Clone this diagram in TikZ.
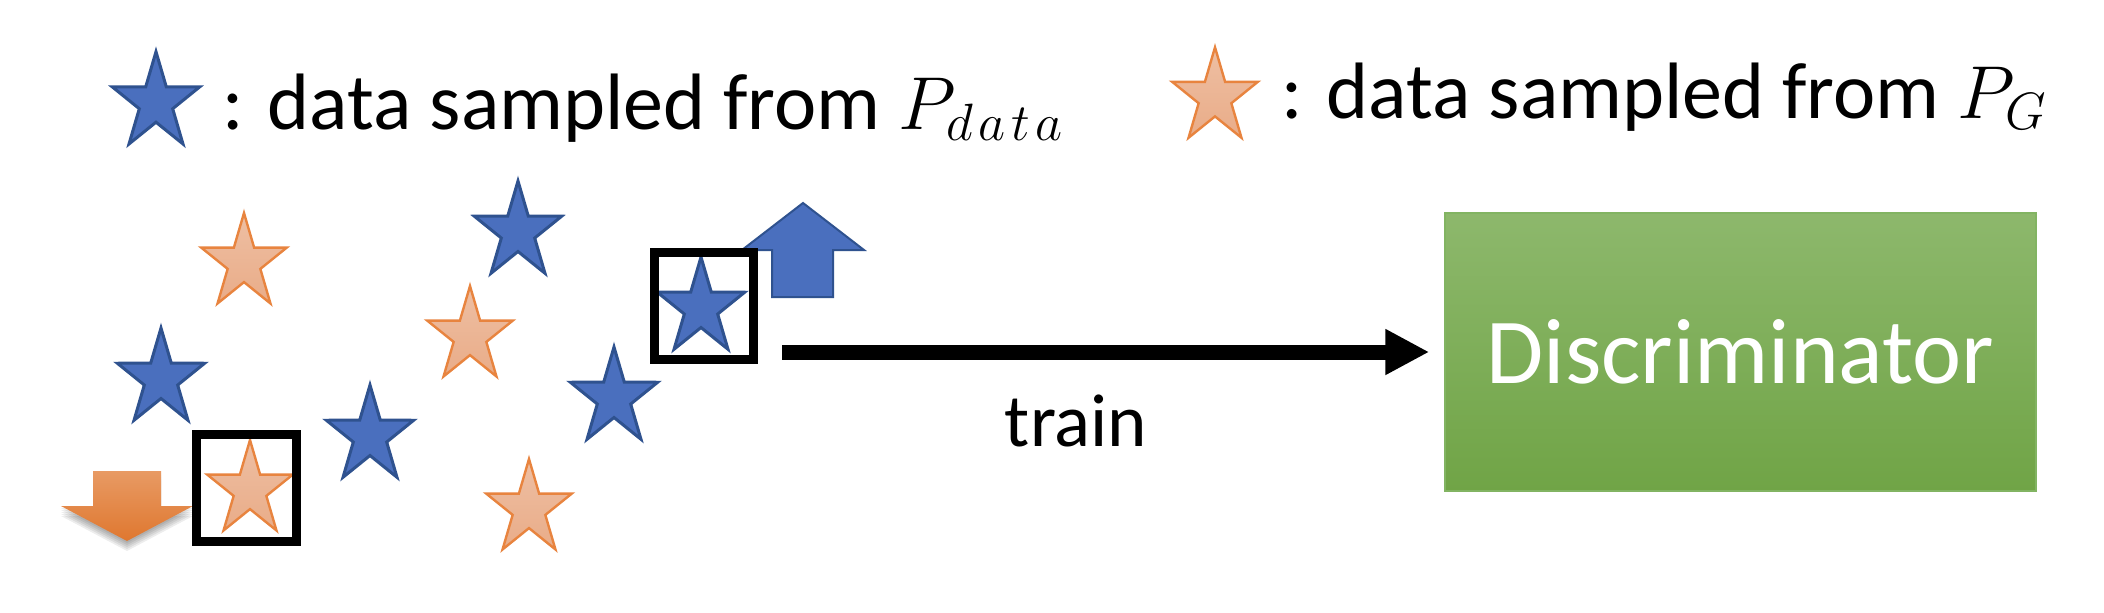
\RequirePackage{fix-cm}
\documentclass[tikz,border=0pt]{standalone}
\usepackage{fontspec}
\setmainfont{Carlito}
\usetikzlibrary{arrows.meta,calc}
\definecolor{bfill}{HTML}{4A6FBE}
\definecolor{bline}{HTML}{2F528F}
\definecolor{oline}{HTML}{E8843F}
\definecolor{otop}{HTML}{EEBFA3}
\definecolor{obot}{HTML}{E9AC88}
\definecolor{gtop}{HTML}{8DB86C}
\definecolor{gbot}{HTML}{70A446}
\definecolor{gline}{HTML}{82B462}
\definecolor{atop}{HTML}{E89A64}
\definecolor{abot}{HTML}{DF772F}
\newcommand{\mymath}[1]{{\fontsize{37.5pt}{44pt}\selectfont$#1$}}
\tikzset{
  bluestarstyle/.style={fill=bfill, draw=bline, line width=1.5pt},
  orangestarstyle/.style={top color=otop, bottom color=obot, draw=oline, line width=1.2pt},
  pics/bstar/.style={code={\path[bluestarstyle,xscale=0.9] (-90:51) -- (-54:19.5) -- (-18:51) -- (18:19.5) -- (54:51) -- (90:19.5) -- (126:51) -- (162:19.5) -- (198:51) -- (234:19.5) -- cycle;}},
  pics/ostar/.style={code={\path[orangestarstyle,xscale=0.9] (-90:50) -- (-54:19.1) -- (-18:50) -- (18:19.1) -- (54:50) -- (90:19.1) -- (126:50) -- (162:19.1) -- (198:50) -- (234:19.1) -- cycle;}},
  blackbox/.style={draw=black, line width=4.5pt, inner sep=0pt},
  disc/.style={rectangle, top color=gtop, bottom color=gbot, draw=gline, line width=0.75pt, minimum width=295.5pt, minimum height=139pt, text=white, inner sep=0pt, font=\fontsize{46.5pt}{50pt}\selectfont},
  trainarrow/.style={line width=7.5pt, -{Triangle[length=22pt,width=21.5pt]}},
  trainlabel/.style={inner sep=0pt, font=\fontsize{37.5pt}{42pt}\selectfont},
  legend/.style={inner sep=0pt, font=\fontsize{40pt}{48pt}\selectfont},
  bluearrow/.style={fill=bfill, draw=bline, line width=1pt},
  orangearrow/.style={top color=atop, bottom color=abot},
  shadowlayer/.style={fill=black, opacity=0.07}
}
\begin{document}
\begin{tikzpicture}[x=0.5pt,y=-0.5pt]
\path[use as bounding box, fill=white] (0,0) rectangle (2104,612);
% legend
\pic (lb) at (156,102.7) {bstar};
\node[legend, anchor=base west] (lbt) at (222,129) {: data sampled from \mymath{P_{d\mkern2mu a\mkern2mu t\mkern2mu a}}};
\pic (lo) at (1215,97.3) {ostar};
\node[legend, anchor=base west] (lot) at (1281,118) {: data sampled from \mymath{P_G}};
% block arrows
\path[bluearrow] (803,203) -- (864,250) -- (833,250) -- (833,297) -- (772,297) -- (772,250) -- (742,250) -- cycle;
\foreach \d in {2,4,6,8,10} {
  \path[shadowlayer] (93,{471+\d}) -- (161,{471+\d}) -- (161,{506+\d}) -- (193,{506+\d}) -- (127,{541+\d}) -- (61,{506+\d}) -- (93,{506+\d}) -- cycle;
}
\path[orangearrow] (93,471) -- (161,471) -- (161,506) -- (193,506) -- (127,541) -- (61,506) -- (93,506) -- cycle;
% stars
\pic (s1) at (244,263) {ostar};
\pic (s2) at (518,232) {bstar};
\pic (s3) at (470,336) {ostar};
\pic (s4) at (161,379) {bstar};
\pic (s5) at (701,308) {bstar};
\pic (s6) at (614,398) {bstar};
\pic (s7) at (370,436) {bstar};
\pic (s8) at (250,490) {ostar};
\pic (s9) at (529,509) {ostar};
% boxes
\node[blackbox, minimum width=49.5pt, minimum height=53.5pt] (boxA) at (704,306) {};
\node[blackbox, minimum width=50pt, minimum height=53.5pt] (boxB) at (246,487.5) {};
% discriminator
\node[disc] (disc) at (1740.5,352) {Discriminator};
\coordinate (astart) at ($(boxA.east)+(24,0)$);
\draw[trainarrow] (astart |- disc.west) -- ([xshift=-7.5pt]disc.west);
\node[trainlabel, anchor=base] (train) at (1076,446) {train};
\end{tikzpicture}
\end{document}
